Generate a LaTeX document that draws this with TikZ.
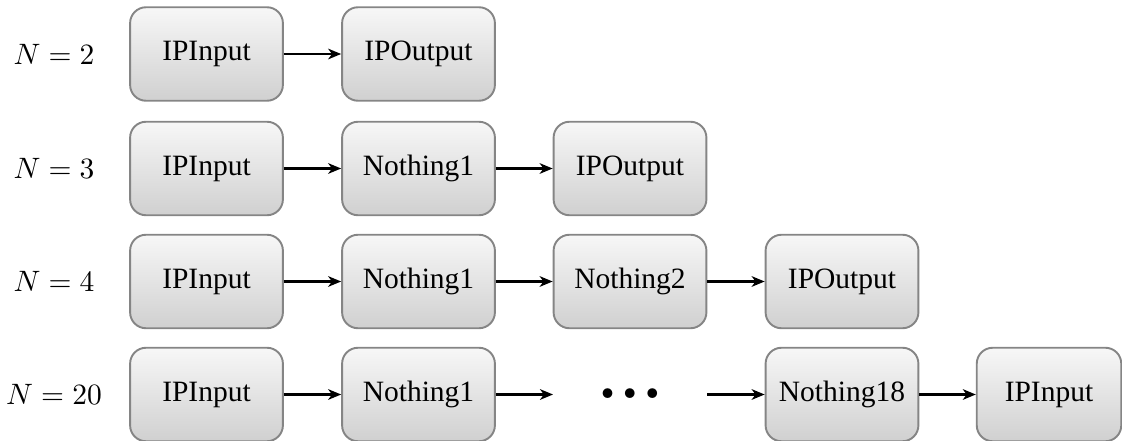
\documentclass[tikz,border=0pt]{standalone}
\usepackage[no-math]{fontspec}
\setmainfont{Liberation Serif}
\usetikzlibrary{arrows.meta,shadings}
\definecolor{boxborder}{HTML}{858585}
\definecolor{boxtop}{HTML}{F7F7F7}
\definecolor{boxbot}{HTML}{D0D0D0}
\tikzset{
  blockbox/.style={draw=boxborder, line width=0.65pt, rounded corners=5.4pt,
    top color=boxtop, bottom color=boxbot, minimum width=51.8pt, minimum height=31.7pt,
    inner sep=0pt, font=\fontsize{10pt}{12pt}\selectfont},
  lastbox/.style={blockbox, minimum width=49pt},
  ghost/.style={minimum width=51.8pt, minimum height=31.7pt, inner sep=0pt,
    font=\fontsize{8pt}{10pt}\selectfont},
  rowlabel/.style={inner sep=0pt, font=\fontsize{10pt}{12pt}\selectfont},
  flow/.style={line width=0.68pt, -{Stealth[length=4.4pt,width=3.6pt,inset=1.3pt]}}
}
\begin{document}
\begin{tikzpicture}[x=0.339pt,y=-0.339pt]
\useasboundingbox (0,0) rectangle (1122,441);
% row 1
\node[rowlabel] (l2) at (54,54) {$N=2$};
\node[blockbox] (a1) at (206.5,54) {IPInput};
\node[blockbox] (a2) at (418.5,54) {IPOutput};
\draw[flow] (a1) -- (a2);
% row 2
\node[rowlabel] (l3) at (54,168.5) {$N=3$};
\node[blockbox] (b1) at (206.5,168.5) {IPInput};
\node[blockbox] (b2) at (418.5,168.5) {Nothing1};
\node[blockbox] (b3) at (630,168.5) {IPOutput};
\draw[flow] (b1) -- (b2);
\draw[flow] (b2) -- (b3);
% row 3
\node[rowlabel] (l4) at (54,281.5) {$N=4$};
\node[blockbox] (c1) at (206.5,281.5) {IPInput};
\node[blockbox] (c2) at (418.5,281.5) {Nothing1};
\node[blockbox] (c3) at (630,281.5) {Nothing2};
\node[blockbox] (c4) at (842,281.5) {IPOutput};
\draw[flow] (c1) -- (c2);
\draw[flow] (c2) -- (c3);
\draw[flow] (c3) -- (c4);
% row 4
\node[rowlabel] (l20) at (54,394.5) {$N=20$};
\node[blockbox] (d1) at (206.5,394.5) {IPInput};
\node[blockbox] (d2) at (418.5,394.5) {Nothing1};
\node[ghost] (d3) at (630,394.5) {$\bullet\mkern3mu\bullet\mkern3mu\bullet$};
\node[blockbox] (d4) at (842,394.5) {Nothing18};
\node[lastbox] (d5) at (1049,394.5) {IPInput};
\draw[flow] (d1) -- (d2);
\draw[flow] (d2) -- (d3);
\draw[flow] (d3) -- (d4);
\draw[flow] (d4) -- (d5);
\end{tikzpicture}
\end{document}
